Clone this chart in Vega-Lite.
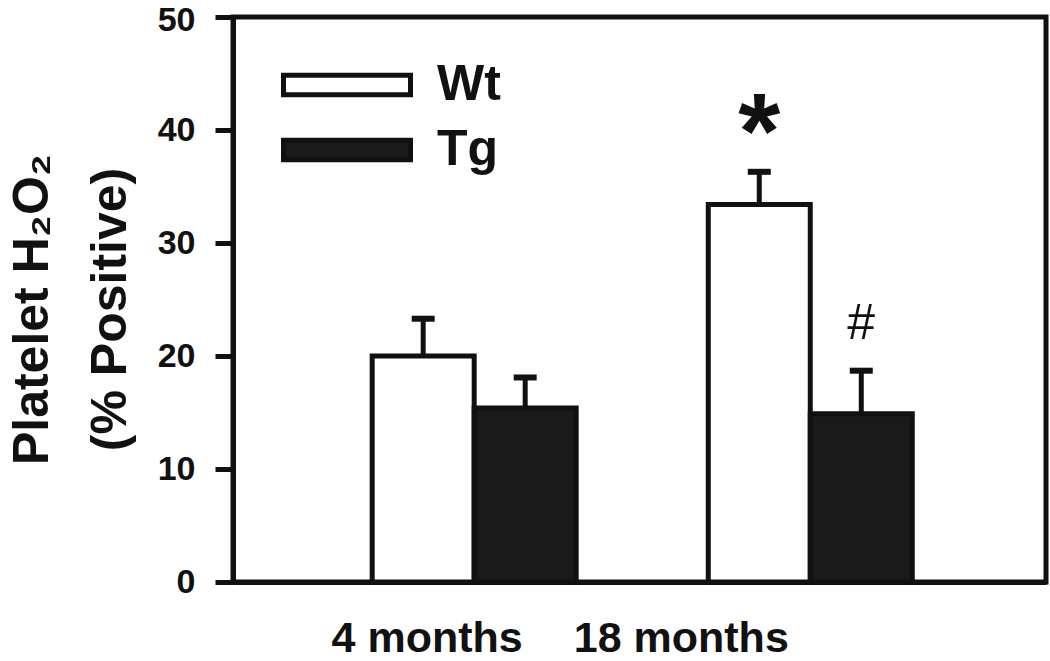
{
  "$schema": "https://vega.github.io/schema/vega-lite/v6.json",
  "width": 813,
  "height": 565,
  "autosize": "none",
  "padding": {"left": 233, "top": 17, "right": 4, "bottom": 79},
  "background": "white",
  "config": {
    "view": {"stroke": "#111", "strokeWidth": 5},
    "font": "Liberation Sans"
  },
  "data": {
    "values": [
      {"age": "4 months", "genotype": "Wt", "value": 20.0, "err": 23.3, "sig": ""},
      {"age": "4 months", "genotype": "Tg", "value": 15.4, "err": 18.1, "sig": ""},
      {"age": "18 months", "genotype": "Wt", "value": 33.4, "err": 36.3, "sig": "*"},
      {"age": "18 months", "genotype": "Tg", "value": 14.9, "err": 18.7, "sig": "#"}
    ]
  },
  "encoding": {
    "x": {
      "field": "age",
      "type": "nominal",
      "sort": ["4 months", "18 months"],
      "scale": {"paddingInner": 0.393, "paddingOuter": 0.406, "align": 0.51},
      "axis": {
        "title": null,
        "ticks": false,
        "domainWidth": 5,
        "domainColor": "#111",
        "labelFont": "Liberation Sans",
        "labelFontSize": 43,
        "labelFontWeight": "bold",
        "labelPadding": 35,
        "labelLimit": 0,
        "labelAngle": 0,
        "labelBaseline": "top",
        "labelColor": "#111",
        "labelOffset": {"condition": {"test": "datum.value === '4 months'", "value": -47}, "value": -129}
      }
    },
    "xOffset": {
      "field": "genotype",
      "type": "nominal",
      "sort": ["Wt", "Tg"],
      "scale": {"paddingInner": 0, "paddingOuter": 0}
    }
  },
  "layer": [
    {
      "mark": {"type": "bar", "stroke": "#111", "strokeWidth": 5},
      "encoding": {
        "y": {
          "field": "value",
          "type": "quantitative",
          "scale": {"domain": [0, 50], "nice": false},
          "axis": {
            "title": ["Platelet H₂O₂", "(% Positive)"],
            "values": [0, 10, 20, 30, 40, 50],
            "grid": false,
            "tickSize": 18,
            "tickWidth": 5,
            "tickColor": "#111",
            "domainWidth": 5,
            "domainColor": "#111",
            "labelFontSize": 34,
            "labelFontWeight": "bold",
            "labelPadding": 20,
            "labelColor": "#111",
            "labelOffset": {"condition": {"test": "datum.value === 50", "value": 3}, "value": 0},
            "titleFontSize": 50,
            "titleFontWeight": "bold",
            "titleColor": "#111",
            "titleAngle": -90,
            "titleX": -186,
            "titleY": 292,
            "titleBaseline": "alphabetic",
            "titleAlign": "center",
            "titleLineHeight": 78
          }
        },
        "fill": {
          "field": "genotype",
          "type": "nominal",
          "scale": {"domain": ["Wt", "Tg"], "range": ["white", "#1a1a1a"]},
          "legend": {
            "title": null,
            "orient": "none",
            "legendX": 89,
            "legendY": 43,
            "padding": 0,
            "symbolType": "M-4,-0.62H4V0.62H-4Z",
            "symbolSize": 1008,
            "symbolStrokeColor": "#111",
            "symbolStrokeWidth": 5,
            "symbolOpacity": 1,
            "labelFontSize": 50,
            "labelFontWeight": "bold",
            "labelColor": "#111",
            "labelOffset": 65,
            "rowPadding": 15
          }
        }
      }
    },
    {
      "mark": {"type": "rule", "color": "#111", "strokeWidth": 5},
      "encoding": {
        "y": {"field": "value", "type": "quantitative"},
        "y2": {"field": "err"}
      }
    },
    {
      "mark": {"type": "tick", "orient": "horizontal", "size": 23, "thickness": 6, "color": "#111", "opacity": 1},
      "encoding": {
        "y": {"field": "err", "type": "quantitative"}
      }
    },
    {
      "transform": [{"filter": "datum.sig === '*'"}],
      "mark": {"type": "text", "fontSize": 108, "fontWeight": "bold", "color": "#111", "baseline": "alphabetic", "dy": -4},
      "encoding": {
        "y": {"field": "err", "type": "quantitative"},
        "text": {"field": "sig"}
      }
    },
    {
      "transform": [{"filter": "datum.sig === '#'"}],
      "mark": {"type": "text", "fontSize": 50, "fontWeight": "normal", "color": "#111", "baseline": "alphabetic", "dy": -32},
      "encoding": {
        "y": {"field": "err", "type": "quantitative"},
        "text": {"field": "sig"}
      }
    }
  ]
}
